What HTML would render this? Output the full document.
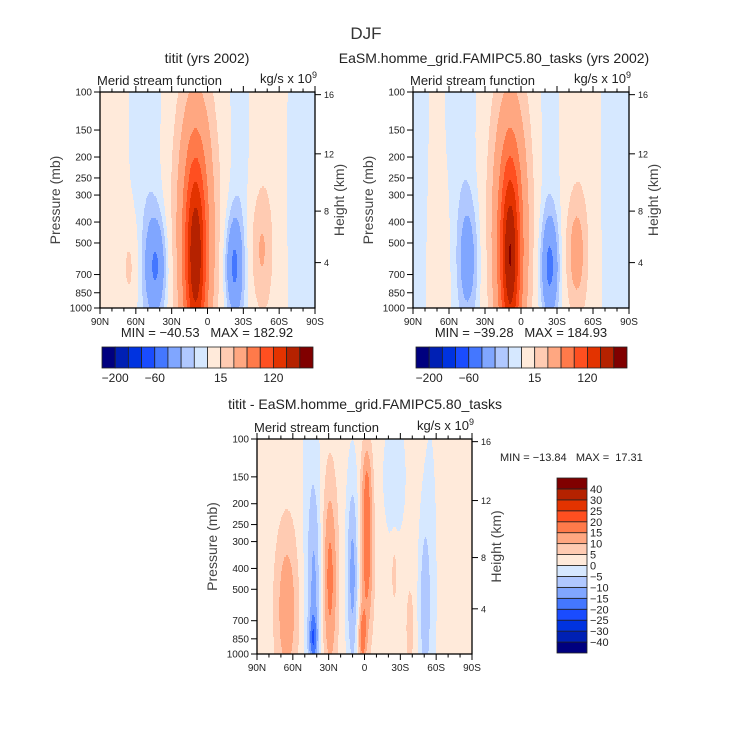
<!DOCTYPE html>
<html><head><meta charset="utf-8"><style>
html,body{margin:0;padding:0;background:#fff;}
svg{display:block;font-family:"Liberation Sans",sans-serif;}
</style></head><body>
<svg id="fig" width="732" height="746" viewBox="0 0 732 746" xmlns="http://www.w3.org/2000/svg">
<text x="366" y="39" font-size="17" text-anchor="middle" fill="#333">DJF</text>
</svg>
<script>
// ---- data ----
const pressureTicks = [100,150,200,250,300,400,500,700,850,1000];
const heightTicks = [4,8,12,16];
const latTicks = [90,60,30,0,-30,-60,-90];
const latTickLabels = ["90N","60N","30N","0","30S","60S","90S"];
const colors = ["#00007f","#0020b4","#0033e0","#1a4cff","#4477ff","#80a6ff","#b0c8ff","#d6e8ff","#ffeada","#ffcbb2","#ffa781","#ff7a4a","#ff4f20","#e33300","#b52200","#800000"];
const levelsMain = [-200,-150,-100,-60,-40,-20,-10,0,15,30,60,90,120,150,180];
const mainBarLabels = ["-200","-60","15","120"];
const mainBarLabelIdx = [0,3,8,12];
const levelsDiff = [-40,-30,-25,-20,-15,-10,-5,0,5,10,15,20,25,30,40];
const diffBarLabels = ["-40","-30","-25","-20","-15","-10","-5","0","5","10","15","20","25","30","40"];

// Panel 1 (titit) blobs
const p1Lat  = [10,   10,   43,  -22,  -45,  65,  50,  -26, -80,  82,  -50];
const p1Pres = [420,  600,  640, 640,  540,  650, 300, 300, 300,  300, 300];
const p1LatW = [13,   6.3,  6.5, 5.5,  6.5,  5,   9,   6,   9,    8,   8];
const p1PresW= [0.5,  0.33, 0.17,0.17, 0.2,  0.16,0.9, 0.9, 0.9,  0.9, 0.9];
const p1Amp  = [55,   125,  -40, -42,  26,   17,  -8,  -7,  -5,   6,   6];
const p1Bg = 1;
// Panel 2 (EaSM) blobs
const p2Lat  = [9,    9,    44,  -24,  -46,  86,  48,  -22, -80,  60,  -50];
const p2Pres = [420,  600,  600, 640,  560,  300, 300, 300, 300,  700, 300];
const p2LatW = [12.5, 6,    6.5, 5.5,  6.5,  5,   8,   6,   9,    12,  8];
const p2PresW= [0.5,  0.33, 0.2, 0.17, 0.2,  0.9, 0.9, 0.9, 0.9,  0.3, 0.9];
const p2Amp  = [55,   128,  -27, -42,  34,   -6,  -8,  -7,  -5,   4,   6];
const p2Bg = 1;
// Panel 3 (difference) blobs
const p3Lat  = [65,   42,   43,  29,   10,   -2,  2,   -50, -38, -25, 45,  -25, -55, -2];
const p3Pres = [620,  520,  850, 450,  430,  330, 850, 600, 750, 420, 300, 150, 500, 150];
const p3LatW = [7,    4,    2.5, 4.5,  3.5,  3.8, 2.5, 3.2, 2.2, 1.8, 6,   8,   4.5, 3];
const p3PresW= [0.28, 0.35, 0.08,0.33, 0.32, 0.28,0.1, 0.28,0.13,0.1, 0.8, 0.25,0.6, 0.12];
const p3Amp  = [12,   -10,  -12, 15,   -14,  17,  14,  -9,  7,   6,   -4,  -4,  -4,  6];
const p3Bg = 2;

// ---- helpers ----
const NS="http://www.w3.org/2000/svg";
const svg=document.getElementById('fig');
function mk(tag,attrs,parent){const e=document.createElementNS(NS,tag);for(const k in attrs)e.setAttribute(k,attrs[k]);(parent||svg).appendChild(e);return e;}
function vOf(p){return Math.log10(p/100);}
function presFromHeight(km){const z=km*1000;if(z<=11000)return 1013.25*Math.pow(1-2.25577e-5*z,5.25588);return 226.32*Math.exp(-(z-11000)/6341.6);}
function field(lat,v,L,P,LW,PW,A,bg){let s=bg;for(let i=0;i<L.length;i++){const dl=(lat-L[i])/LW[i],dv=(v-vOf(P[i]))/PW[i];s+=A[i]*Math.exp(-0.5*(dl*dl+dv*dv));}return s;}
function colorIdx(val,levels){let k=0;while(k<levels.length&&val>=levels[k])k++;return k;}

function drawPanel(name,X,Y,W,H,L,P,LW,PW,A,bg,levels,leftTitle){
  const g=mk('g',{},svg);
  
  
  const xS=lat=>X+(90-lat)/180*W;
  const yS=p=>Y+vOf(p)*H;
  const cg=mk('g',{},g);
  
  
  const rowH=2;
  for(let py=0;py<H;py+=rowH){
    const v=(py+rowH/2)/H;
    let start=0,cur=-1;
    for(let px=0;px<=W;px++){
      let ci=-1;
      if(px<W){const lat=90-(px+0.5)/W*180;ci=colorIdx(field(lat,v,L,P,LW,PW,A,bg),levels);}
      if(ci!==cur){
        if(cur>=0){const r=mk('rect',{x:X+start,y:Y+py,width:px-start+0.3,height:Math.min(rowH,H-py)+0.3,fill:colors[cur]},cg);
          
          }
        start=px;cur=ci;
      }
    }
  }
  const fr=mk('rect',{x:X,y:Y,width:W,height:H,fill:'none',stroke:'#000','stroke-width':1.3},g);
  
  
  for(let lat=90;lat>=-90;lat-=10){
    const x=xS(lat),major=(lat%30===0),len=major?6:3.5;
    mk('line',{x1:x,x2:x,y1:Y+H,y2:Y+H+len,stroke:'#000','stroke-width':1},g);
    mk('line',{x1:x,x2:x,y1:Y,y2:Y-len,stroke:'#000','stroke-width':1},g);
  }
  latTicks.forEach((lat,i)=>{const t=mk('text',{x:xS(lat),y:Y+H+17,'font-size':10,'text-anchor':'middle',fill:'#222'},g);t.textContent=latTickLabels[i];
    
    });
  pressureTicks.forEach(p=>{const y=yS(p);mk('line',{x1:X-6,x2:X,y1:y,y2:y,stroke:'#000','stroke-width':1},g);
    const t=mk('text',{x:X-8,y:y+3.5,'font-size':10,'text-anchor':'end',fill:'#222'},g);t.textContent=p;
    
    });
  heightTicks.forEach(h=>{const y=yS(presFromHeight(h));mk('line',{x1:X+W,x2:X+W+6,y1:y,y2:y,stroke:'#000','stroke-width':1},g);
    const t=mk('text',{x:X+W+9,y:y+3.5,'font-size':9,fill:'#222'},g);t.textContent=h;
    
    });
  const yl=mk('text',{x:0,y:0,'font-size':14,'text-anchor':'middle',fill:'#444',transform:`translate(${X-40},${Y+H/2}) rotate(-90)`},g);yl.textContent='Pressure (mb)';
  
  
  const yr=mk('text',{x:0,y:0,'font-size':14,'text-anchor':'middle',fill:'#444',transform:`translate(${X+W+29},${Y+H/2}) rotate(-90)`},g);yr.textContent='Height (km)';
  
  
  const lt=mk('text',{x:X-3,y:Y-7,'font-size':13,fill:'#222'},g);lt.textContent=leftTitle;
  
  
  const ut=mk('text',{x:X+W+2,y:Y-9,'font-size':13,'text-anchor':'end',fill:'#222'},g);ut.innerHTML='kg/s x 10<tspan font-size="9" dy="-5">9</tspan>';
  
  
}
function hBar(name,X,Y,W,H,levels,labels,idx){
  const g=mk('g',{},svg);
  
  
  const bw=W/colors.length;
  colors.forEach((c,i)=>{const r=mk('rect',{x:X+i*bw,y:Y,width:bw,height:H,fill:c,stroke:'#222','stroke-width':0.8},g);
    
    });
  labels.forEach((l,i)=>{const t=mk('text',{x:X+(idx[i]+1)*bw,y:Y+H+14,'font-size':12,'text-anchor':'middle',fill:'#222'},g);t.textContent=l.replace('-','\u2212');
    
    });
}
function txt(name,x,y,s,size,anchor){const t=mk('text',{x:x,y:y,'font-size':size,'text-anchor':anchor||'middle',fill:'#222'});t.textContent=s;
  
  return t;}

drawPanel('panel-titit',100,92,215,216,p1Lat,p1Pres,p1LatW,p1PresW,p1Amp,p1Bg,levelsMain,'Merid stream function');
drawPanel('panel-easm',413,92,216,216,p2Lat,p2Pres,p2LatW,p2PresW,p2Amp,p2Bg,levelsMain,'Merid stream function');
drawPanel('panel-diff',257,439,215,215,p3Lat,p3Pres,p3LatW,p3PresW,p3Amp,p3Bg,levelsDiff,'Merid stream function');
txt('panel1-title',207,63,'titit (yrs 2002)',14);
txt('panel2-title',494,63,'EaSM.homme_grid.FAMIPC5.80_tasks (yrs 2002)',14);
txt('panel3-title',365,409,'titit - EaSM.homme_grid.FAMIPC5.80_tasks',14);
txt('panel1-minmax',207,337,'MIN = \u221240.53\u00a0\u00a0\u00a0MAX = 182.92',13);
txt('panel2-minmax',521,337,'MIN = \u221239.28\u00a0\u00a0\u00a0MAX = 184.93',13);
txt('panel3-minmax',500,461,'MIN = \u221213.84\u00a0\u00a0\u00a0MAX =\u00a0\u00a017.31',11,'start');
hBar('panel1-colorbar',102,347,211,21,levelsMain,mainBarLabels,mainBarLabelIdx);
hBar('panel2-colorbar',416,347,211,21,levelsMain,mainBarLabels,mainBarLabelIdx);
(function(){
  const X=557,Y=478,W=30,H=175,bh=H/colors.length;
  const g=mk('g',{},svg);
  
  
  colors.forEach((c,i)=>{const r=mk('rect',{x:X,y:Y+H-(i+1)*bh,width:W,height:bh,fill:c,stroke:'#222','stroke-width':0.8},g);
    
    });
  diffBarLabels.forEach((l,i)=>{const t=mk('text',{x:X+W+3,y:Y+H-(i+1)*bh+4,'font-size':11,fill:'#222'},g);t.textContent=l.replace('-','\u2212');
    
    });
})();
</script>
</body></html>
